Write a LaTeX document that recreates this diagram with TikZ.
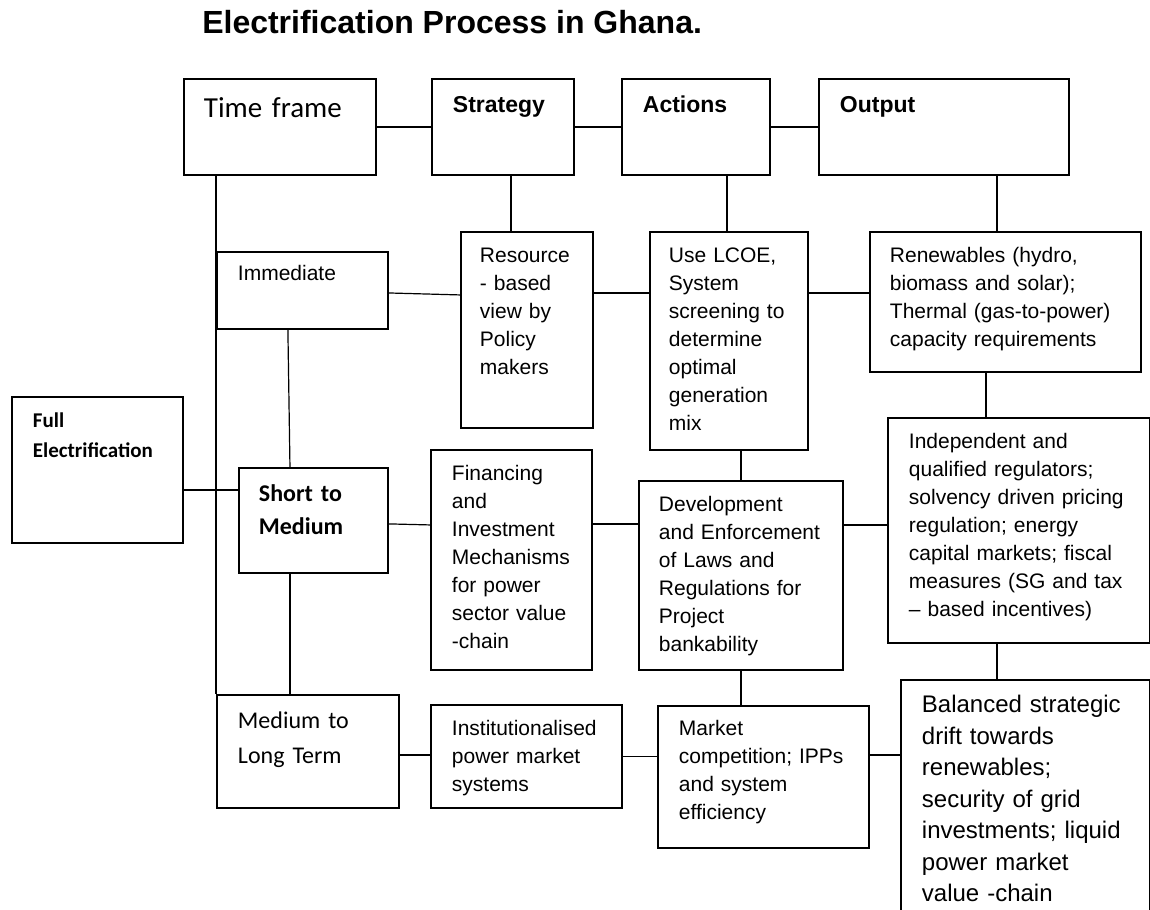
\documentclass[tikz,border=0pt]{standalone}
\usepackage{fontspec}
\setmainfont{Liberation Sans}
\newfontfamily\carlito{Carlito}

\begin{document}
\begin{tikzpicture}[x=0.75pt, y=-0.75pt,
    box/.style={draw, line width=1.4pt, anchor=north west, align=left,
      inner xsep=15.75pt, inner ysep=0pt,
      font=\fontsize{15.75}{21}\selectfont},
    head/.style={box, font=\bfseries\fontsize{17.25}{21}\selectfont,
      text height=25.5pt, text depth=46.5pt},
    link/.style={line width=0.9pt}]

\useasboundingbox (0,0) rectangle (1150,910);

\node[anchor=base west, inner sep=0pt, font=\bfseries\fontsize{24}{29}\selectfont]
  (title) at (202,33) {Electrification Process in Ghana.};

% header row
\node[box, font=\carlito\fontsize{21.75}{26}\selectfont, inner xsep=15pt,
  text width=114pt, text height=29.25pt, text depth=42.75pt] (tf) at (183,78) {Time frame};
\node[head, text width=75pt] (strat) at (431,78) {Strategy};
\node[head, text width=79.5pt] (act) at (621,78) {Actions};
\node[head, text width=156pt] (out) at (818,78) {Output};

% strategy, actions and output for each time frame
\node[box, inner xsep=14.25pt, text width=70.5pt, text height=23.25pt, text depth=123.75pt]
  (res) at (460,231) {Resource\\- based\\view by\\Policy\\makers};
\node[box, inner xsep=14.25pt, text width=90pt, text height=23.25pt, text depth=140.25pt]
  (lcoe) at (649,231) {Use LCOE,\\System\\screening to\\determine\\optimal\\generation\\mix};
\node[box, inner xsep=15pt, text width=173.25pt, text height=23.25pt, text depth=81.75pt]
  (ren) at (869,231) {Renewables (hydro,\\biomass and solar);\\Thermal (gas-to-power)\\capacity requirements};

\node[box, text width=96.75pt, text height=21.75pt, text depth=36pt]
  (imm) at (216,251) {Immediate};
\node[box, font=\carlito\bfseries\fontsize{15.75}{22.5}\selectfont,
  text width=96.75pt, text height=23.25pt, text depth=86.25pt]
  (full) at (11,396) {Full\\Electrification};
\node[box, font=\carlito\bfseries\fontsize{18}{24.75}\selectfont, inner xsep=15pt,
  text width=81.75pt, text height=25.5pt, text depth=53.25pt]
  (stm) at (238,467) {Short to\\Medium};

\node[box, text width=89.25pt, text height=23.25pt, text depth=141.75pt]
  (fin) at (430,449) {Financing\\and\\Investment\\Mechanisms\\for power\\sector value\\-chain};
\node[box, inner xsep=15pt, text width=123pt, text height=23.25pt, text depth=118.5pt]
  (dev) at (638,480) {Development\\and Enforcement\\of Laws and\\Regulations for\\Project\\bankability};
\node[box, text width=165pt, text height=23.25pt, text depth=145.5pt]
  (ind) at (887,417) {Independent and\\qualified regulators;\\solvency driven pricing\\regulation; energy\\capital markets; fiscal\\measures (SG and tax\\– based incentives)};

\node[box, font=\carlito\fontsize{18}{26.25}\selectfont,
  text width=105pt, text height=25.5pt, text depth=59.25pt]
  (mlt) at (216,694) {Medium to\\Long Term};
\node[box, text width=111.75pt, text height=23.25pt, text depth=54pt]
  (inst) at (430,704) {Institutionalised\\power market\\systems};
\node[box, text width=126.75pt, text height=22.5pt, text depth=84pt]
  (mkt) at (657,705) {Market\\competition; IPPs\\and system\\efficiency};
\node[box, font=\fontsize{18}{23.6}\selectfont,
  text width=155.25pt, text height=24.75pt, text depth=152.25pt]
  (bal) at (900,679) {Balanced strategic\\drift towards\\renewables;\\security of grid\\investments; liquid\\power market\\value -chain};

% header links
\draw[link] (tf.east) -- (strat.west);
\draw[link] (strat.east) -- (act.west);
\draw[link] (act.east) -- (out.west);

% time frame spine
\draw[link] (tf.south -| mlt.north west) -- (mlt.north west);
\draw[link] ([xshift=-10.9pt]imm.south) -- ([xshift=-17.6pt]stm.north);
\draw[link] ([xshift=-17.6pt]stm.south) -- ([xshift=-17.6pt]stm.south |- mlt.north);
\draw[link] ([yshift=-15pt]full.east) -- ([yshift=-15pt]full.east -| stm.west);

% columns
\draw[link] ([xshift=-12pt]res.north) -- ([xshift=-12pt]res.north |- strat.south);
\draw[link] ([xshift=-1.5pt]lcoe.north) -- ([xshift=-1.5pt]lcoe.north |- act.south);
\draw[link] ([xshift=-6.4pt]ren.north) -- ([xshift=-6.4pt]ren.north |- out.south);
\draw[link] ([xshift=-14.6pt]ren.south) -- ([xshift=-14.6pt]ren.south |- ind.north);
\draw[link] ([xshift=-16.5pt]ind.south) -- ([xshift=-16.5pt]ind.south |- bal.north);
\draw[link] (dev.north) -- (dev.north |- lcoe.south);
\draw[link] (dev.south) -- (dev.south |- mkt.north);

% rows
\draw[link] ([yshift=-1.9pt]imm.east) -- ([yshift=26.25pt]res.west);
\draw[link] ([yshift=36pt]lcoe.west) -- ([yshift=36pt]lcoe.west -| res.east);
\draw[link] ([yshift=6.75pt]ren.west) -- ([yshift=6.75pt]ren.west -| lcoe.east);
\draw[link] ([yshift=-2.6pt]stm.east) -- ([yshift=26.25pt]fin.west);
\draw[link] ([yshift=38.6pt]dev.west) -- ([yshift=38.6pt]dev.west -| fin.east);
\draw[link] ([yshift=4.1pt]ind.west) -- ([yshift=4.1pt]ind.west -| dev.east);
\draw[link] ([yshift=-2.6pt]mlt.east) -- ([yshift=-2.6pt]mlt.east -| inst.west);
\draw[link] (inst.east) -- (inst.east -| mkt.west);
\draw[link] ([yshift=16.5pt]mkt.east) -- ([yshift=16.5pt]mkt.east -| bal.west);
\end{tikzpicture}
\end{document}
